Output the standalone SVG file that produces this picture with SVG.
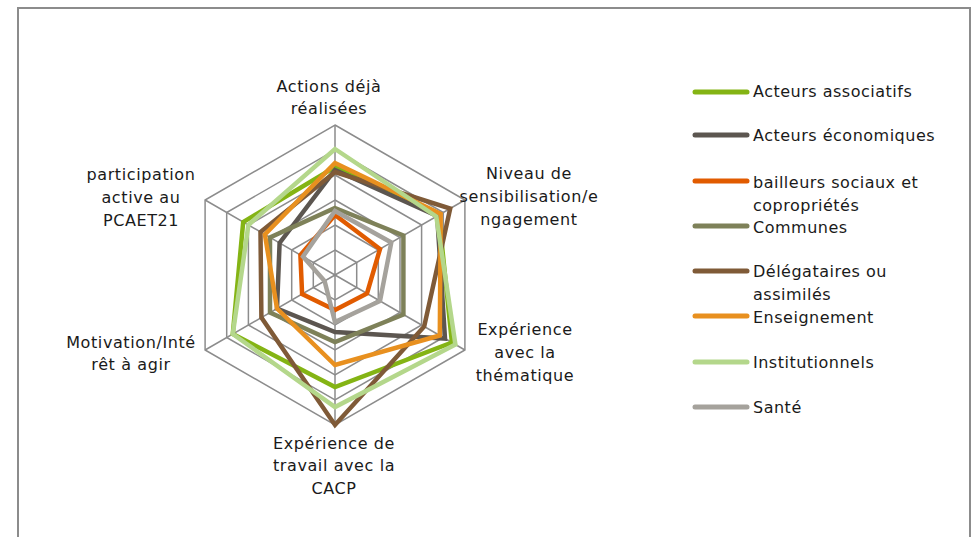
<svg xmlns="http://www.w3.org/2000/svg" width="972" height="537" viewBox="0 0 972 537">
<style>
.grid{fill:none;stroke:#8c8c8c;stroke-width:1.5}
.s{fill:none;stroke-width:4.5;stroke-linejoin:miter}
.lab{font-family:"DejaVu Sans",sans-serif;font-size:16px;letter-spacing:0.6px;fill:#1a1a1a;text-anchor:middle}
.leg{font-family:"DejaVu Sans",sans-serif;font-size:16px;letter-spacing:0.5px;fill:#1a1a1a}
.ll{stroke-width:5;stroke-linecap:round}
</style>
<rect x="0" y="0" width="972" height="537" fill="#ffffff"/>
<path d="M18,540 V8 H970 V540" fill="none" stroke="#8c8c8c" stroke-width="2"/>
<g id="grid">
<polygon class="grid" points="335,125 464.9,200 464.9,350 335,425 205.1,350 205.1,200"/>
<polygon class="grid" points="335,150 443.3,212.5 443.3,337.5 335,400 226.7,337.5 226.7,212.5"/>
<polygon class="grid" points="335,175 421.6,225 421.6,325 335,375 248.4,325 248.4,225"/>
<polygon class="grid" points="335,200 400,237.5 400,312.5 335,350 270,312.5 270,237.5"/>
<polygon class="grid" points="335,225 378.3,250 378.3,300 335,325 291.7,300 291.7,250"/>
<polygon class="grid" points="335,250 356.7,262.5 356.7,287.5 335,300 313.3,287.5 313.3,262.5"/>
<path class="grid" d="M335,275 L335,125 M335,275 L464.9,200 M335,275 L464.9,350 M335,275 L335,425 M335,275 L205.1,350 M335,275 L205.1,200"/>
</g>
<g id="series">
<polygon id="s-associatifs" class="s" stroke="#84b414" points="335,167 438.9,215 451.9,342.5 335,387 232.8,334 243.2,222"/>
<polygon id="s-economiques" class="s" stroke="#5c5650" points="335,170 437.2,216 445,338.5 335,332 277,308.5 279.6,243"/>
<polygon id="s-bailleurs" class="s" stroke="#e15b00" points="335,215 380,249 367,293.5 335,310 302.1,294 300.4,255"/>
<polygon id="s-communes" class="s" stroke="#7e8159" points="335,208 403.4,235.5 403.4,314.5 335,342 270,312.5 270,237.5"/>
<polygon id="s-delegataires" class="s" stroke="#7f5a37" points="335,172 450.2,208.5 424.2,326.5 335,425 261.4,317.5 260.5,232"/>
<polygon id="s-enseignement" class="s" stroke="#e8901f" points="335,163 440.7,214 439.8,335.5 335,365 277,308.5 264.9,234.5"/>
<polygon id="s-institutionnels" class="s" stroke="#b4d78b" points="335,149 436.3,216.5 455.4,344.5 335,407 232.8,334 248.4,225"/>
<polygon id="s-sante" class="s" stroke="#a5a29c" points="335,211 391.3,242.5 380,301 335,322 324.6,281 303,256.5"/>
</g>
<g id="axis-labels">
<text class="lab" x="329" y="92">Actions déjà</text>
<text class="lab" x="329" y="114">réalisées</text>
<text class="lab" x="529" y="179">Niveau de</text>
<text class="lab" x="529" y="202">sensibilisation/e</text>
<text class="lab" x="529" y="225">ngagement</text>
<text class="lab" x="525" y="335">Expérience</text>
<text class="lab" x="525" y="358">avec la</text>
<text class="lab" x="525" y="381">thématique</text>
<text class="lab" x="334" y="449">Expérience de</text>
<text class="lab" x="334" y="471">travail avec la</text>
<text class="lab" x="334" y="494">CACP</text>
<text class="lab" x="131" y="348">Motivation/Inté</text>
<text class="lab" x="131" y="370">rêt à agir</text>
<text class="lab" x="141" y="180">participation</text>
<text class="lab" x="141" y="203">active au</text>
<text class="lab" x="141" y="226">PCAET21</text>
</g>
<g id="legend">
<line class="ll" x1="695" y1="92" x2="747" y2="92" stroke="#84b414"/>
<text class="leg" x="753" y="97">Acteurs associatifs</text>
<line class="ll" x1="695" y1="135" x2="747" y2="135" stroke="#5c5650"/>
<text class="leg" x="753" y="141">Acteurs économiques</text>
<line class="ll" x1="695" y1="181" x2="747" y2="181" stroke="#e15b00"/>
<text class="leg" x="753" y="188">bailleurs sociaux et</text>
<text class="leg" x="753" y="211">copropriétés</text>
<line class="ll" x1="695" y1="226" x2="747" y2="226" stroke="#7e8159"/>
<text class="leg" x="753" y="233">Communes</text>
<line class="ll" x1="695" y1="271" x2="747" y2="271" stroke="#7f5a37"/>
<text class="leg" x="753" y="277">Délégataires ou</text>
<text class="leg" x="753" y="300">assimilés</text>
<line class="ll" x1="695" y1="316" x2="747" y2="316" stroke="#e8901f"/>
<text class="leg" x="753" y="323">Enseignement</text>
<line class="ll" x1="695" y1="362" x2="747" y2="362" stroke="#b4d78b"/>
<text class="leg" x="753" y="368">Institutionnels</text>
<line class="ll" x1="695" y1="407" x2="747" y2="407" stroke="#a5a29c"/>
<text class="leg" x="753" y="413">Santé</text>
</g>
</svg>
